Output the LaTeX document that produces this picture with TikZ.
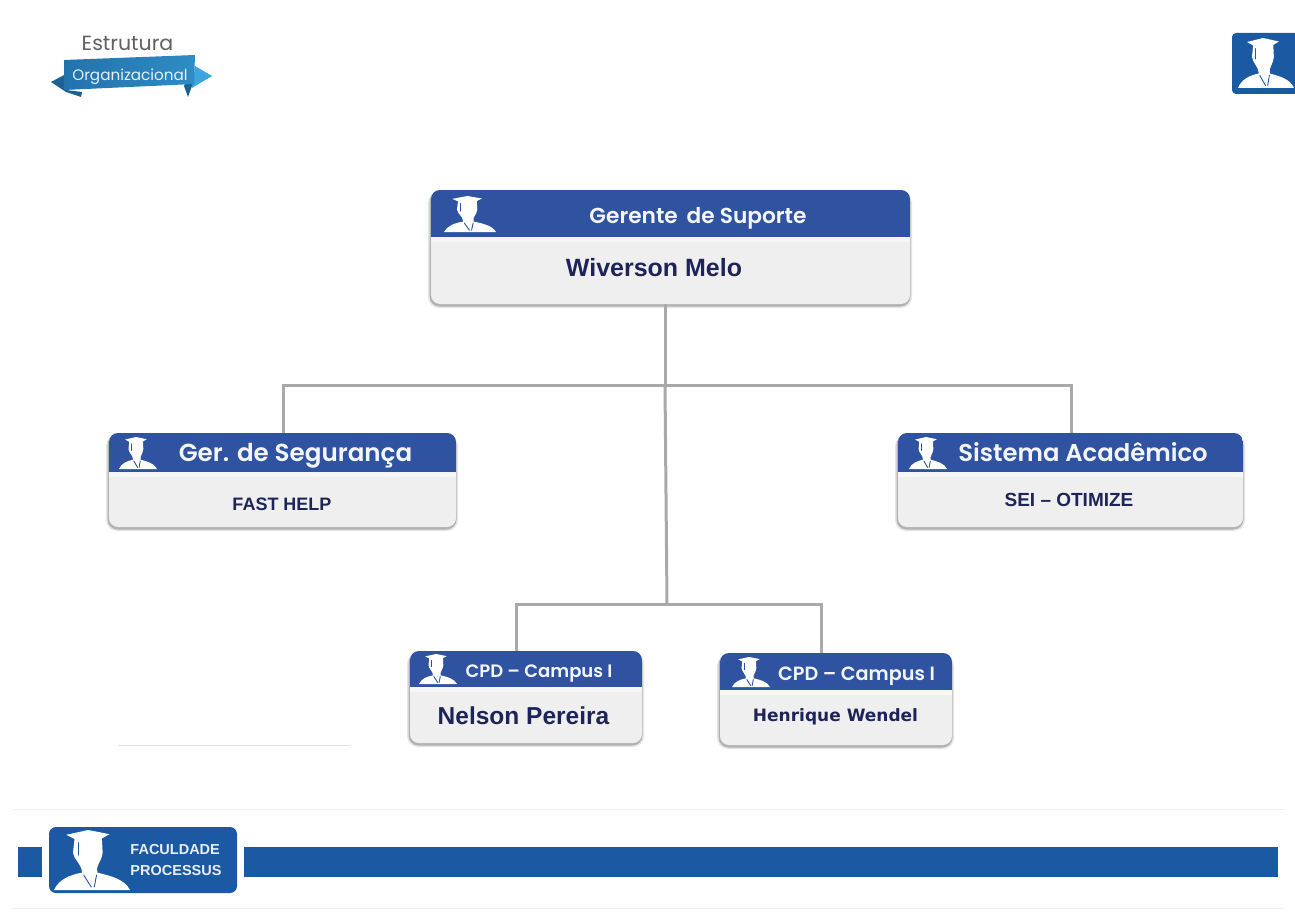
\documentclass[tikz,border=0pt]{standalone}
\usepackage{fontspec}
\setmainfont{Liberation Sans}
\newfontfamily\gothic{Poppins}
\newfontfamily\gothicm{Poppins SemiBold}
\newfontfamily\wide{DejaVu Sans}
\usetikzlibrary{calc,shapes.geometric}
\definecolor{hdr}{HTML}{2F53A0}
\definecolor{logoblue}{HTML}{1B5AA2}
\definecolor{cardbg}{HTML}{EFEFF0}
\definecolor{namecol}{HTML}{1F2458}
\definecolor{linecol}{HTML}{A9A9A9}
\definecolor{rib}{HTML}{2F8CC4}
\definecolor{ribdark}{HTML}{2272AC}
\definecolor{ribedge}{HTML}{3BA5DC}
\tikzset{
  x=1pt,y=-1pt,
  cardbody/.style={draw=none,fill=cardbg,rounded corners=9pt,anchor=north west,inner sep=0pt,outer sep=0pt},
  conn/.style={draw=linecol,line width=3pt,line join=miter},
  title/.style={text=white!94!hdr,inner sep=0pt,anchor=center},
  person/.style={text=namecol,inner sep=0pt,anchor=center},
  pics/grad/.style={code={
    \fill[white] (-.68,-.84) -- (-.1,-1) -- (.46,-.86) -- (.26,-.72) -- (.28,-.25)
       .. controls (.26,.05) and (.08,.2) .. (.14,.42)
       .. controls (.45,.52) and (.85,.62) .. (1.0,1) -- (-1.0,1)
       .. controls (-.88,.66) and (-.6,.5) .. (-.26,.42)
       .. controls (-.28,.1) and (-.48,0) .. (-.5,-.25) -- (-.46,-.70) -- cycle;
    \draw[#1,line width=.9pt,line cap=round] (-.36,-.58) -- (-.36,-.16);
    \draw[#1,line width=.9pt,line cap=round] (-.22,.5) -- (-.02,.9);
    \draw[#1,line width=.9pt,line cap=round] (.12,.5) -- (.06,.9);
  }},
}
% \orgcard{name}{x0}{y0}{x1}{y1}{yheader}
\newcommand{\orgcard}[6]{%
  \fill[black!10,rounded corners=11pt] (#2-3,#3+2) rectangle (#4+2,#5+4);
  \fill[black!30,rounded corners=10pt] (#2-1.5,#3+2) rectangle (#4+.5,#5+2.5);
  \path let \p1=($(#4,#5)-(#2,#3)$) in
    node[cardbody,minimum width=\x1,minimum height=-\y1] (#1) at (#2,#3) {};
  \begin{scope}
    \clip[rounded corners=9pt] (#2,#3) rectangle (#4,#5);
    \fill[hdr] (#2,#3) rectangle (#4,#6);
    \fill[white!45!cardbg] (#2,#6) rectangle (#4,#6+5);
  \end{scope}%
}
\begin{document}
\begin{tikzpicture}
\useasboundingbox (0,0) rectangle (1295,912);
\fill[white] (0,0) rectangle (1295,912);

% ---- top left ribbon
\node[text=black!62,font=\gothic\fontsize{20.5}{20}\selectfont,inner sep=0pt] (estr) at (127.5,43) {Estrutura};
\fill[ribdark!85!black] (51,82) -- (66,74) -- (66,90) -- (82,92) -- (81,97) -- (66,92) -- cycle;
\fill[ribdark!85!black] (190,72) -- (212,76) -- (192,86) -- (188,97) -- (184,86) -- cycle;
\fill[ribedge] (195,66) -- (212,76) -- (192,88) -- cycle;
\shade[left color=ribdark,right color=rib] (64,60) -- (195,55) -- (194,84) -- (64,90) -- cycle;
\node[text=white!88!rib,font=\gothic\fontsize{15.2}{15}\selectfont,inner sep=0pt] (org) at (130,77) {Organizacional};

% ---- top right logo
\fill[logoblue,rounded corners=4pt] (1232,33) rectangle (1305,94);
\path (1266,63) pic[x=28pt,y=-25pt] (iconr) {grad=logoblue};

% ---- cards
\orgcard{top}{431}{190}{910}{304}{237}
\orgcard{sec}{109}{433}{456}{527}{472}
\orgcard{aca}{898}{433}{1243}{527}{472}
\orgcard{cpa}{410}{651}{642}{743}{687}
\orgcard{cpb}{720}{653}{952}{745}{690}

% icons
\path (470,214) pic[x=26pt,y=-18pt] {grad=hdr};
\path (138,453) pic[x=19pt,y=-16pt] {grad=hdr};
\path (928,453) pic[x=19pt,y=-16pt] {grad=hdr};
\path (438,669) pic[x=19pt,y=-15pt] {grad=hdr};
\path (751,672) pic[x=19pt,y=-15pt] {grad=hdr};

% titles
\node[title,font=\gothicm\fontsize{21.7}{22}\selectfont] (t1) at (698,218) {Gerente \,de Suporte};
\node[title,font=\gothicm\fontsize{24.6}{25}\selectfont] (t2) at (295.5,456) {Ger. de Segurança};
\node[title,font=\gothicm\fontsize{24.3}{25}\selectfont] (t3) at (1083,452) {Sistema Acadêmico};
\node[title,font=\gothicm\fontsize{18}{18}\selectfont] (t4) at (539,674) {CPD – Campus I};
\node[title,font=\gothicm\fontsize{19.2}{19}\selectfont] (t5) at (856.5,676) {CPD – Campus I};

% names
\node[person,font=\bfseries\fontsize{25}{25}\selectfont] (n1) at (654,268) {Wiverson Melo};
\node[person,font=\bfseries\fontsize{18}{18}\selectfont] (n2) at (282,504) {FAST HELP};
\node[person,font=\bfseries\fontsize{19}{19}\selectfont] (n3) at (1069,500) {SEI – OTIMIZE};
\node[person,font=\bfseries\fontsize{24.5}{25}\selectfont] (n4) at (523.5,716) {Nelson Pereira};
\node[person,font=\wide\bfseries\fontsize{17}{17}\selectfont] (n5) at (835.5,717) {Henrique Wendel};

% ---- connectors
\coordinate (hub) at (665,385);
\coordinate (hubl) at (283,385);
\coordinate (hubr) at (1071,385);
\coordinate (low) at (667,604);
\coordinate (lowl) at (516,604);
\coordinate (lowr) at (821,604);
\coordinate (secin) at (283,433);
\coordinate (acain) at (1071,433);
\coordinate (cpain) at (516,651);
\coordinate (cpbin) at (821,653);
\coordinate (topout) at (665,304);
\draw[conn] (topout) -- (hub);
\draw[conn] (hub) -- (low);
\draw[conn] (secin) -- (hubl) -- (hubr) -- (acain);
\draw[conn] (cpain) -- (lowl) -- (lowr) -- (cpbin);

% ---- faint lines
\draw[black!12,line width=1pt] (118,745) -- (350,745);
\draw[black!5,line width=1pt] (12,809) -- (1285,809);
\draw[black!5,line width=1pt] (12,908) -- (1285,908);

% ---- footer
\fill[logoblue] (18,847) rectangle (42,877);
\fill[logoblue] (244,847) rectangle (1278,877);
\fill[logoblue,rounded corners=7pt] (49,827) rectangle (237,893);
\path (92,860) pic[x=38pt,y=-30pt] (iconf) {grad=logoblue};
\node[text=white!90!logoblue,font=\bfseries\fontsize{14.5}{21}\selectfont,align=left,inner sep=0pt] (brand) at (176,860) {FACULDADE\\PROCESSUS};
\end{tikzpicture}
\end{document}
